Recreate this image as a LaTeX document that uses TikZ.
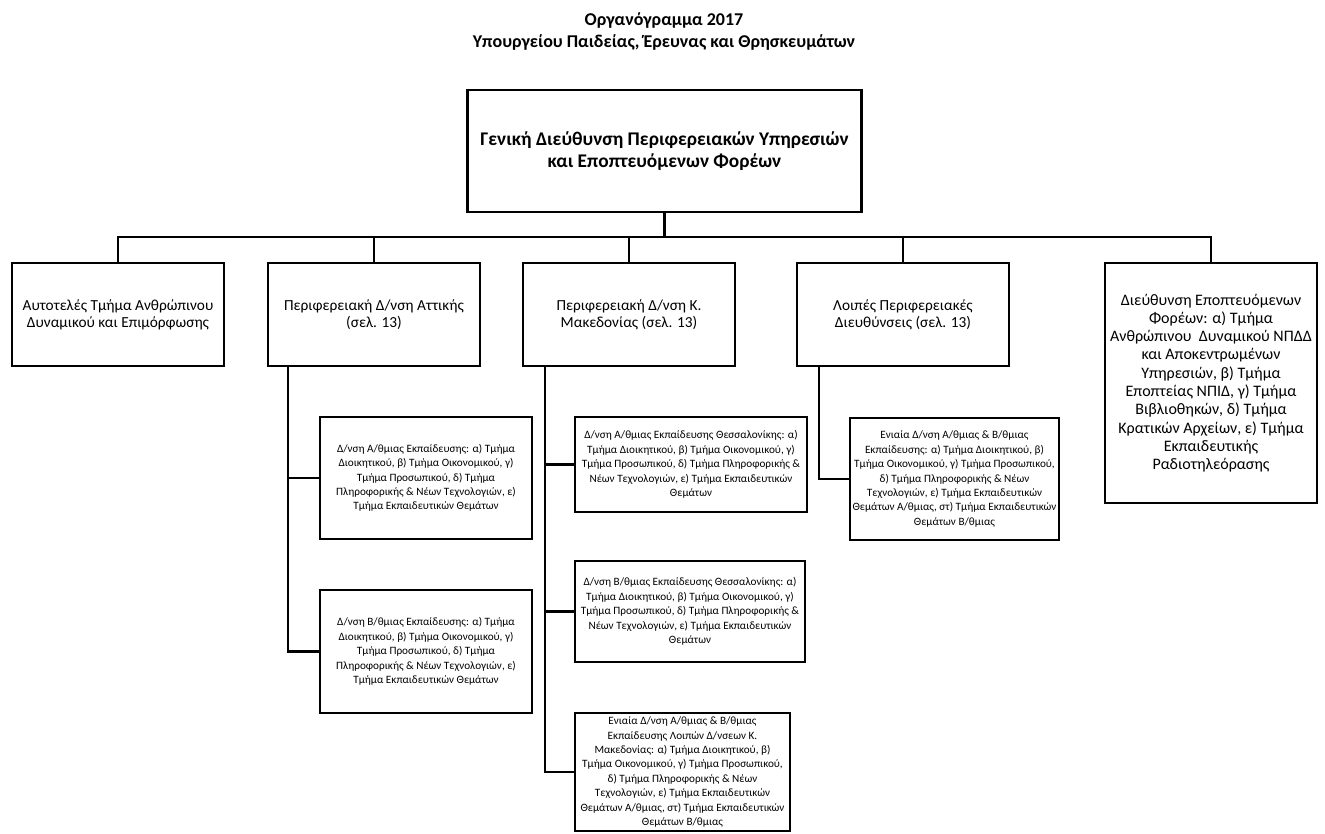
\documentclass[tikz,border=0pt]{standalone}
\usepackage{fontspec}
\setmainfont{Carlito}
\begin{document}
\begin{tikzpicture}[x=0.75pt,y=-0.75pt,
  box/.style={draw=black,line width=2.2pt,fill=white,inner sep=0pt,align=center},
  con/.style={draw=black,line width=2.2pt},
  titletext/.style={font=\bfseries\fontsize{13.5}{16.5}\selectfont,align=center},
  topbox/.style={box,font=\bfseries\fontsize{14.5}{16.5}\selectfont,minimum width=296pt,minimum height=91.5pt},
  lvtwo/.style={box,font=\fontsize{11.5}{12.8}\selectfont,minimum width=159pt,minimum height=77.25pt},
  lvfive/.style={box,font=\fontsize{12}{13.7}\selectfont,minimum width=159pt,minimum height=180pt},
  lvthree/.style={box,font=\fontsize{8.4}{10.8}\selectfont}
]
\useasboundingbox (0,0) rectangle (1325,834);

\node[titletext] (title) at (664,31) {Οργανόγραμμα 2017\\Υπουργείου Παιδείας, Έρευνας και Θρησκευμάτων};

\node[topbox] (top) at (664.5,151) {Γενική Διεύθυνση Περιφερειακών Υπηρεσιών\\και Εποπτευόμενων Φορέων};

\node[lvtwo] (n1) at (118,314.5) {Αυτοτελές Τμήμα Ανθρώπινου\\Δυναμικού και Επιμόρφωσης};
\node[lvtwo] (n2) at (374,314.5) {Περιφερειακή Δ/νση Αττικής\\(σελ. 13)};
\node[lvtwo] (n3) at (629,314.5) {Περιφερειακή Δ/νση Κ.\\Μακεδονίας (σελ. 13)};
\node[lvtwo] (n4) at (903,314.5) {Λοιπές Περιφερειακές\\Διευθύνσεις (σελ. 13)};
\node[lvfive] (n5) at (1211,383) {Διεύθυνση Εποπτευόμενων\\Φορέων: α) Τμήμα\\Ανθρώπινου\ \ Δυναμικού ΝΠΔΔ\\και Αποκεντρωμένων\\Υπηρεσιών, β) Τμήμα\\Εποπτείας ΝΠΙΔ, γ) Τμήμα\\Βιβλιοθηκών, δ) Τμήμα\\Κρατικών Αρχείων, ε) Τμήμα\\Εκπαιδευτικής\\Ραδιοτηλεόρασης};

\node[lvthree,minimum width=159pt,minimum height=91.5pt] (a1) at (426,478) {Δ/νση Α/θμιας Εκπαίδευσης: α) Τμήμα\\Διοικητικού, β) Τμήμα Οικονομικού, γ)\\Τμήμα Προσωπικού, δ) Τμήμα\\Πληροφορικής \& Νέων Τεχνολογιών, ε)\\Τμήμα Εκπαιδευτικών Θεμάτων};
\node[lvthree,minimum width=159pt,minimum height=92.25pt] (a2) at (426,651.5) {Δ/νση Β/θμιας Εκπαίδευσης: α) Τμήμα\\Διοικητικού, β) Τμήμα Οικονομικού, γ)\\Τμήμα Προσωπικού, δ) Τμήμα\\Πληροφορικής \& Νέων Τεχνολογιών, ε)\\Τμήμα Εκπαιδευτικών Θεμάτων};

\node[lvthree,minimum width=174pt,minimum height=71.25pt] (m1) at (691,464.5) {Δ/νση Α/θμιας Εκπαίδευσης Θεσσαλονίκης: α)\\Τμήμα Διοικητικού, β) Τμήμα Οικονομικού, γ)\\Τμήμα Προσωπικού, δ) Τμήμα Πληροφορικής \&\\Νέων Τεχνολογιών, ε) Τμήμα Εκπαιδευτικών\\Θεμάτων};
\node[lvthree,minimum width=172.5pt,minimum height=75.75pt] (m2) at (690,611.5) {Δ/νση Β/θμιας Εκπαίδευσης Θεσσαλονίκης: α)\\Τμήμα Διοικητικού, β) Τμήμα Οικονομικού, γ)\\Τμήμα Προσωπικού, δ) Τμήμα Πληροφορικής \&\\Νέων Τεχνολογιών, ε) Τμήμα Εκπαιδευτικών\\Θεμάτων};
\node[lvthree,minimum width=161.25pt,minimum height=88.5pt] (m3) at (682.5,772) {Ενιαία Δ/νση Α/θμιας \& Β/θμιας\\Εκπαίδευσης Λοιπών Δ/νσεων Κ.\\Μακεδονίας: α) Τμήμα Διοικητικού, β)\\Τμήμα Οικονομικού, γ) Τμήμα Προσωπικού,\\δ) Τμήμα Πληροφορικής \& Νέων\\Τεχνολογιών, ε) Τμήμα Εκπαιδευτικών\\Θεμάτων Α/θμιας, στ) Τμήμα Εκπαιδευτικών\\Θεμάτων Β/θμιας};

\node[lvthree,minimum width=156.75pt,minimum height=91.5pt] (e1) at (954.5,479) {Ενιαία Δ/νση Α/θμιας \& Β/θμιας\\Εκπαίδευσης: α) Τμήμα Διοικητικού, β)\\Τμήμα Οικονομικού, γ) Τμήμα Προσωπικού,\\δ) Τμήμα Πληροφορικής \& Νέων\\Τεχνολογιών, ε) Τμήμα Εκπαιδευτικών\\Θεμάτων Α/θμιας, στ) Τμήμα Εκπαιδευτικών\\Θεμάτων Β/θμιας};

% top to bus
\coordinate (bus) at (664.5,237);
\draw[con] (top.south) -- (bus);
\draw[con] (n1.north) -- (n1.north |- bus) -- (n5.north |- bus) -- (n5.north);
\draw[con] (n2.north) -- (n2.north |- bus);
\draw[con] (n3.north) -- (n3.north |- bus);
\draw[con] (n4.north) -- (n4.north |- bus);

% Attica
\coordinate (av) at (288,366);
\draw[con] (av) |- (a2.west);
\draw[con] (av |- a1.west) -- (a1.west);

% Macedonia
\coordinate (mv) at (545,366);
\draw[con] (mv) |- (m3.west);
\draw[con] (mv |- m1.west) -- (m1.west);
\draw[con] (mv |- m2.west) -- (m2.west);

% Others
\coordinate (ov) at (819,366);
\draw[con] (ov) |- (e1.west);
\end{tikzpicture}
\end{document}
